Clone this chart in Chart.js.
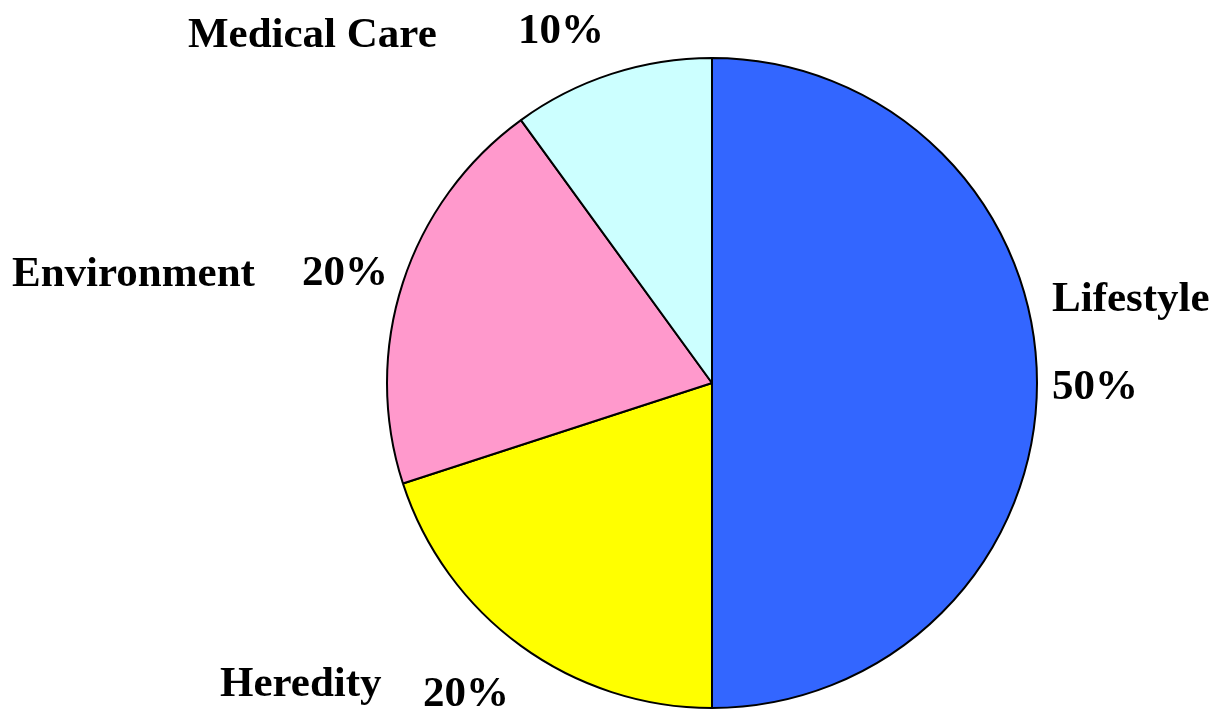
<!DOCTYPE html>
<html>
<head>
<meta charset="utf-8">
<script src="https://cdn.jsdelivr.net/npm/chart.js@4/dist/chart.umd.min.js"></script>
<style>
  html, body { margin: 0; padding: 0; background: #fff; }
  #wrap { width: 1216px; height: 711px; position: relative; }
</style>
</head>
<body>
<div id="wrap"><canvas id="pie"></canvas></div>
<script>
// Data
const categories = ['Lifestyle', 'Heredity', 'Environment', 'Medical Care'];
const shares = [50, 20, 20, 10];
const sliceColors = ['#3366FF', '#FFFF00', '#FF99CC', '#CCFFFF'];

// Where each name / percent sits on the page (left x, baseline y)
const namePos = [[1052, 311], [220, 696], [12, 286], [188, 47]];
const pctPos = [[1052, 399], [423, 706], [302, 285], [518, 43]];

// Draw the names and percentages as plain text next to the pie
const labelPlugin = {
  id: 'sliceLabels',
  afterDraw(chart) {
    const ctx = chart.ctx;
    ctx.save();
    ctx.fillStyle = '#000';
    ctx.font = 'bold 43px "Liberation Serif", "Times New Roman", serif';
    ctx.textAlign = 'left';
    ctx.textBaseline = 'alphabetic';
    categories.forEach((name, i) => {
      ctx.fillText(name, namePos[i][0], namePos[i][1]);
      ctx.fillText(shares[i] + '%', pctPos[i][0], pctPos[i][1]);
    });
    ctx.restore();
  }
};

new Chart('pie', {
  type: 'pie',
  data: {
    labels: categories,
    datasets: [{
      data: shares,
      backgroundColor: sliceColors,
      borderColor: '#000',
      borderWidth: 2
    }]
  },
  options: {
    responsive: true,
    maintainAspectRatio: false,
    animation: false,
    layout: {
      padding: { left: 386, right: 178, top: 57, bottom: 2 }
    },
    plugins: {
      legend: { display: false },
      tooltip: { enabled: false }
    }
  },
  plugins: [labelPlugin]
});
</script>
</body>
</html>
